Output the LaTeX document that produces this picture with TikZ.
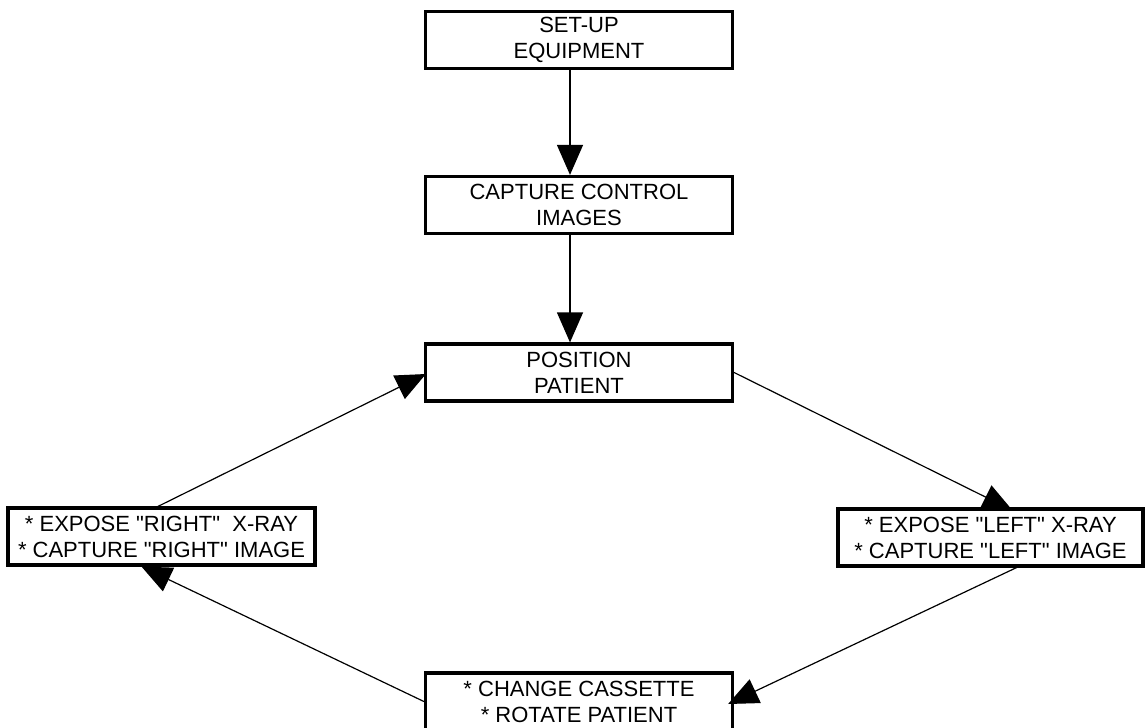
\documentclass[tikz,border=0pt]{standalone}
\usepackage{fontspec}
\setmainfont{Liberation Sans}[Ligatures=TeXOff]
\usetikzlibrary{arrows.meta,calc}
\begin{document}
\begin{tikzpicture}[x=1pt,y=1pt,
  stepbox/.style={draw, line width=3.2pt, rectangle, minimum width=307pt,
    minimum height=57pt, inner sep=0pt, align=center,
    font=\fontsize{22}{26}\selectfont},
  flow/.style={line width=1.2pt, -{Triangle[length=30pt,width=26pt]}}]
\useasboundingbox (0,0) rectangle (1146,-728);

% process steps
\node[stepbox] (b1) at (579,-40)    {SET-UP\\EQUIPMENT};
\node[stepbox] (b2) at (579,-205)   {CAPTURE CONTROL\\IMAGES};
\node[stepbox] (b3) at (579,-372.5) {POSITION\\PATIENT};
\node[stepbox] (b4) at (161.5,-536.5) {* EXPOSE "RIGHT" \ X-RAY\\* CAPTURE "RIGHT" IMAGE};
\node[stepbox, minimum width=305pt] (b5) at (990.5,-537.5) {* EXPOSE "LEFT" X-RAY\\* CAPTURE "LEFT" IMAGE};
\node[stepbox] (b6) at (579,-701.5) {* CHANGE CASSETTE\\* ROTATE PATIENT};

% connectors
\draw[flow] ($(b1.south)+(-9,0)$) -- ($(b2.north)+(-9,0)$);
\draw[flow] ($(b2.south)+(-9,0)$) -- ($(b3.north)+(-9,0)$);
\draw[flow] (b3.east) -- ($(b5.north)+(22,-3)$);
\draw[flow] ($(b5.south)+(26,0)$) -- ($(b6.east)+(-6,-2.5)$);
\draw[flow] (b6.west) -- ($(b4.south)+(-20,0)$);
\draw[flow] ($(b4.north)+(-3.5,0)$) -- ($(b3.west)+(2,-1.5)$);
\end{tikzpicture}
\end{document}
